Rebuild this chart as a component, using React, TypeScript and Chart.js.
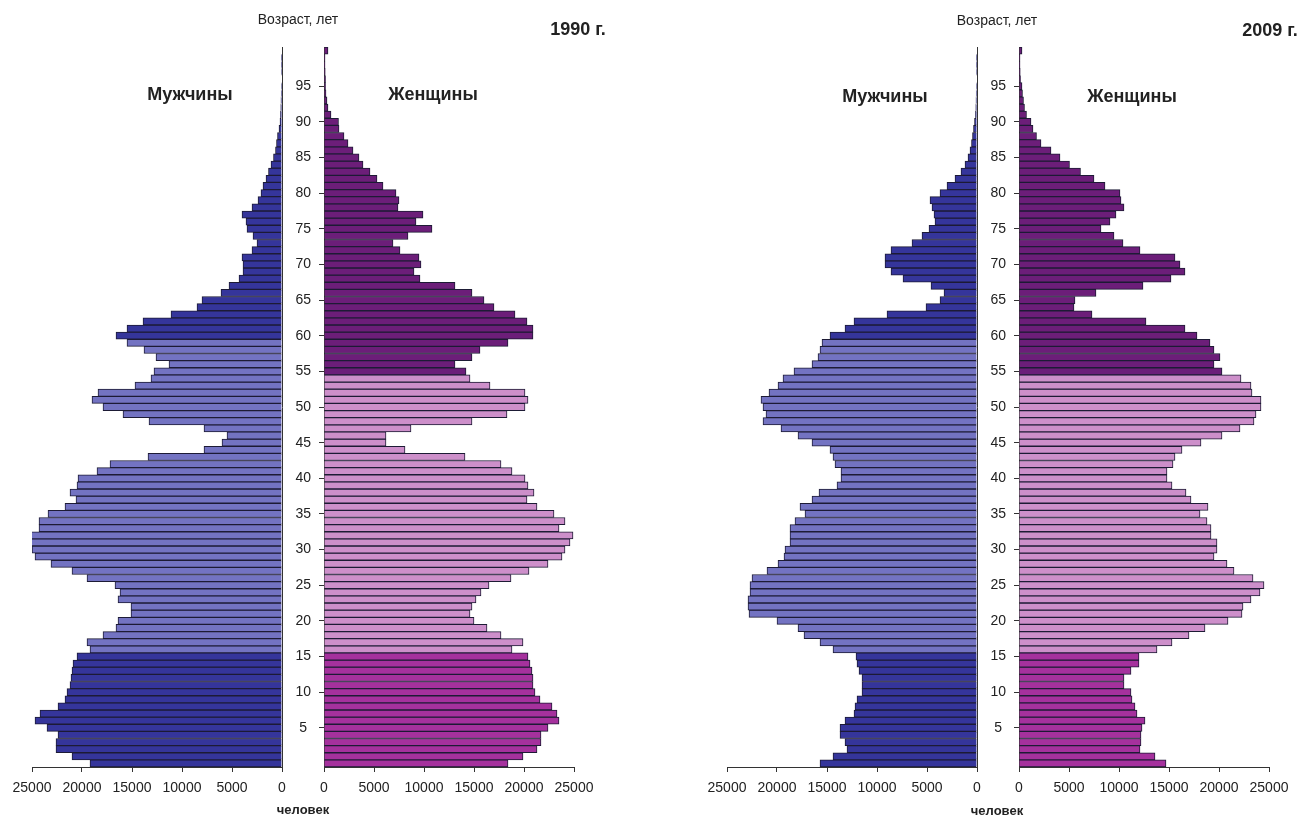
import React, { useEffect, useRef } from "react";
import { Chart, registerables } from "chart.js";

Chart.register(...registerables);

// Age categories (single years, 0 … 100+)
const AGES: number[] = Array.from({ length: 101 }, (_, i) => i);
const AGE_TICK_LABELS: number[] = [5, 10, 15, 20, 25, 30, 35, 40, 45, 50, 55, 60, 65, 70, 75, 80, 85, 90, 95];
const X_TICKS: number[] = [0, 5000, 10000, 15000, 20000, 25000];

// 1990, persons by single year of age (index = age)
const MEN_1990: number[] = [
  19200, 21000, 22600, 22600, 22400, 23500, 24700, 24200, 22400, 21700,
  21500, 21200, 21100, 21000, 20900, 20500, 19200, 19500, 17900, 16600,
  16400, 15100, 15100, 16400, 16200, 16700, 19500, 21000, 23100, 24700,
  25000, 25300, 25300, 24300, 24300, 23400, 21700, 20600, 21200, 20500,
  20400, 18500, 17200, 13400, 7800, 6000, 5500, 7800, 13300, 15900,
  17900, 19000, 18400, 14700, 13100, 12800, 11300, 12600, 13800, 15500,
  16600, 15500, 13900, 11100, 8500, 8000, 6100, 5300, 4300, 3900,
  3900, 4000, 3000, 2500, 2900, 3500, 3600, 4000, 3000, 2400,
  2100, 1900, 1600, 1350, 1100, 850, 650, 550, 450, 300,
  200, 150, 120, 100, 80, 60, 50, 40, 30, 20,
  50,
];
const WOMEN_1990: number[] = [
  18400, 19900, 21300, 21700, 21700, 22400, 23500, 23300, 22800, 21600,
  21100, 20900, 20900, 20800, 20600, 20400, 18800, 19900, 17700, 16300,
  15000, 14600, 14800, 15200, 15700, 16500, 18700, 20500, 22400, 23800,
  24100, 24600, 24900, 23500, 24100, 23000, 21300, 20300, 21000, 20400,
  20100, 18800, 17700, 14100, 8100, 6200, 6200, 8700, 14800, 18300,
  20100, 20400, 20100, 16600, 14600, 14200, 13100, 14800, 15600, 18400,
  20900, 20900, 20300, 19100, 17000, 16000, 14800, 13100, 9600, 9000,
  9700, 9500, 7600, 6900, 8400, 10800, 9200, 9900, 7400, 7500,
  7200, 5900, 5300, 4600, 3900, 3500, 2900, 2400, 2000, 1500,
  1450, 700, 400, 300, 200, 150, 150, 120, 100, 100,
  400,
];

// 2009
const MEN_2009: number[] = [
  15700, 14400, 13000, 13200, 13700, 13700, 13200, 12300, 12200, 12000,
  11500, 11500, 11500, 11800, 12000, 12100, 14400, 15700, 17300, 17900,
  20000, 22800, 22900, 22900, 22700, 22700, 22500, 21000, 19900, 19300,
  19200, 18700, 18700, 18700, 18200, 17200, 17700, 16500, 15800, 14000,
  13600, 13600, 14200, 14400, 14700, 16500, 17900, 19600, 21400, 21100,
  21400, 21600, 20800, 19900, 19400, 18300, 16500, 15900, 15700, 15500,
  14700, 13200, 12300, 9000, 5100, 3700, 3300, 4600, 7400, 8600,
  9200, 9200, 8600, 6500, 5500, 4800, 4200, 4300, 4500, 4700,
  3700, 3000, 2200, 1600, 1200, 900, 700, 550, 450, 350,
  250, 150, 120, 100, 80, 60, 50, 40, 30, 20,
  50,
];
const WOMEN_2009: number[] = [
  14700, 13600, 12100, 12200, 12200, 12300, 12600, 11800, 11600, 11300,
  11200, 10500, 10500, 11200, 12000, 12000, 13800, 15300, 17000, 18600,
  20900, 22300, 22400, 23200, 24100, 24500, 23400, 21500, 20800, 19500,
  19800, 19800, 19200, 19200, 18800, 18100, 18900, 17200, 16700, 15300,
  14800, 14800, 15400, 15600, 16300, 18200, 20300, 22100, 23500, 23700,
  24200, 24200, 23300, 23200, 22200, 20300, 19500, 20100, 19500, 19100,
  17800, 16600, 12700, 7300, 5500, 5600, 7700, 12400, 15200, 16600,
  16100, 15600, 12100, 10400, 9500, 8200, 9100, 9700, 10500, 10200,
  10100, 8600, 7500, 6150, 5050, 4100, 3200, 2200, 1750, 1400,
  1200, 750, 550, 450, 350, 300, 150, 120, 100, 100,
  300,
];

const MALE_CHILD = "#35359b";
const MALE_WORK = "#7373c2";
const MALE_OLD = "#35359b";
const FEMALE_CHILD = "#a5319d";
const FEMALE_WORK = "#cd8fca";
const FEMALE_OLD = "#6c1e79";
const BAR_EDGE = "#1d1b35";
const AXIS = "#333333";
const TEXT = "#222222";
const FONT = "'Liberation Sans', Arial, sans-serif";

const maleColors = AGES.map((a) => (a < 16 ? MALE_CHILD : a < 60 ? MALE_WORK : MALE_OLD));
const femaleColors = AGES.map((a) => (a < 16 ? FEMALE_CHILD : a < 55 ? FEMALE_WORK : FEMALE_OLD));

function xScale(reverse: boolean) {
  return {
    type: "linear" as const,
    reverse,
    min: 0,
    max: 25000,
    afterBuildTicks: (s: any) => {
      s.ticks = X_TICKS.map((v) => ({ value: v }));
    },
    afterFit: (s: any) => {
      s.height = 49;
    },
    ticks: {
      color: TEXT,
      font: { family: FONT, size: 14 },
      padding: 8,
      maxRotation: 0,
      callback: (v: any) => String(v),
    },
    grid: { drawOnChartArea: false, drawTicks: true, tickLength: 5, color: AXIS },
    border: { display: true, color: AXIS, width: 1 },
  };
}

function maleConfig(values: number[]): any {
  return {
    type: "bar",
    data: {
      labels: AGES,
      datasets: [
        {
          data: values,
          backgroundColor: maleColors,
          borderColor: BAR_EDGE,
          borderWidth: 1,
          barPercentage: 1,
          categoryPercentage: 1,
        },
      ],
    },
    options: {
      indexAxis: "y",
      responsive: false,
      animation: false,
      devicePixelRatio: 1,
      plugins: { legend: { display: false }, tooltip: { enabled: false } },
      layout: { padding: { left: 32, right: 18, top: 47, bottom: 0 } },
      scales: {
        x: xScale(true),
        y: {
          position: "right",
          reverse: true,
          ticks: { display: false },
          grid: { display: false },
          border: { display: true, color: AXIS, width: 1 },
          afterFit: (s: any) => {
            s.width = 0;
          },
        },
      },
    },
  };
}

function femaleConfig(values: number[]): any {
  return {
    type: "bar",
    data: {
      labels: AGES,
      datasets: [
        {
          data: values,
          backgroundColor: femaleColors,
          borderColor: BAR_EDGE,
          borderWidth: 1,
          barPercentage: 1,
          categoryPercentage: 1,
        },
      ],
    },
    options: {
      indexAxis: "y",
      responsive: false,
      animation: false,
      devicePixelRatio: 1,
      plugins: { legend: { display: false }, tooltip: { enabled: false } },
      layout: { padding: { left: 0, right: 28, top: 47, bottom: 0 } },
      scales: {
        x: xScale(false),
        y: {
          position: "left",
          reverse: true,
          afterFit: (s: any) => {
            s.width = 42;
          },
          ticks: {
            autoSkip: false,
            color: TEXT,
            font: { family: FONT, size: 14 },
            padding: 8,
            crossAlign: "center",
            callback: (v: any) => (AGE_TICK_LABELS.includes(AGES[v]) ? String(AGES[v]) : ""),
          },
          grid: {
            drawOnChartArea: false,
            drawTicks: true,
            tickLength: 5,
            offset: false,
            color: (ctx: any) =>
              ctx.tick && AGE_TICK_LABELS.includes(AGES[ctx.tick.value]) ? AXIS : "rgba(0,0,0,0)",
          },
          border: { display: true, color: AXIS, width: 1 },
        },
      },
    },
  };
}

type Label = { text: string; x: number; y: number; size: number; bold?: boolean };

const LABELS: Label[] = [
  { text: "Возраст, лет", x: 298, y: 19, size: 14 },
  { text: "1990 г.", x: 578, y: 29, size: 18, bold: true },
  { text: "Мужчины", x: 190, y: 94, size: 18, bold: true },
  { text: "Женщины", x: 433, y: 94, size: 18, bold: true },
  { text: "человек", x: 303, y: 809, size: 13, bold: true },
  { text: "Возраст, лет", x: 997, y: 20, size: 14 },
  { text: "2009 г.", x: 1270, y: 30, size: 18, bold: true },
  { text: "Мужчины", x: 885, y: 96, size: 18, bold: true },
  { text: "Женщины", x: 1132, y: 96, size: 18, bold: true },
  { text: "человек", x: 997, y: 810, size: 13, bold: true },
];

export default function App() {
  const m90 = useRef<HTMLCanvasElement>(null);
  const f90 = useRef<HTMLCanvasElement>(null);
  const m09 = useRef<HTMLCanvasElement>(null);
  const f09 = useRef<HTMLCanvasElement>(null);

  useEffect(() => {
    const charts = [
      new Chart(m90.current as HTMLCanvasElement, maleConfig(MEN_1990)),
      new Chart(f90.current as HTMLCanvasElement, femaleConfig(WOMEN_1990)),
      new Chart(m09.current as HTMLCanvasElement, maleConfig(MEN_2009)),
      new Chart(f09.current as HTMLCanvasElement, femaleConfig(WOMEN_2009)),
    ];
    return () => charts.forEach((c) => c.destroy());
  }, []);

  const cv = (left: number, width: number): React.CSSProperties => ({
    position: "absolute",
    left,
    top: 0,
    width,
    height: 816,
  });

  return (
    <div
      style={{
        position: "absolute",
        left: 0,
        top: 0,
        width: 1304,
        height: 816,
        background: "#ffffff",
        overflow: "hidden",
        fontFamily: FONT,
      }}
    >
      <canvas ref={m90} width={300} height={816} style={cv(0, 300)} />
      <canvas ref={f90} width={320} height={816} style={cv(282, 320)} />
      <canvas ref={m09} width={300} height={816} style={cv(695, 300)} />
      <canvas ref={f09} width={320} height={816} style={cv(977, 320)} />
      {LABELS.map((l, i) => (
        <div
          key={i}
          style={{
            position: "absolute",
            left: l.x,
            top: l.y,
            transform: "translate(-50%, -50%)",
            fontSize: l.size,
            fontWeight: l.bold ? 700 : 400,
            color: TEXT,
            whiteSpace: "nowrap",
            lineHeight: 1,
          }}
        >
          {l.text}
        </div>
      ))}
    </div>
  );
}
